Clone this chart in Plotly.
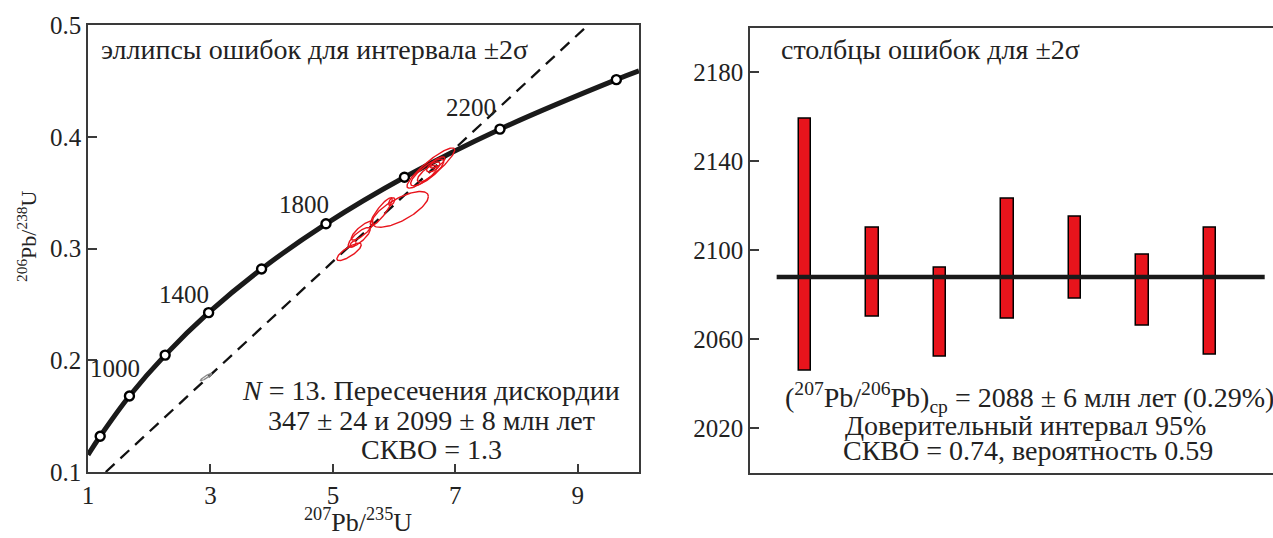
import numpy as np
import plotly.graph_objects as go

# ---------------- data ----------------
# Concordia curve points (207Pb/235U, 206Pb/238U); ages of the marked points in Ma
conc_ages = [800, 1000, 1200, 1400, 1600, 1800, 2000, 2200, 2400]
conc_x = [1.199, 1.677, 2.260, 2.970, 3.835, 4.887, 6.169, 7.729, 9.630]
conc_y = [0.132, 0.168, 0.2046, 0.2426, 0.2817, 0.3221, 0.3638, 0.4068, 0.4511]
curve_x = [1.0] + conc_x + [10.0]
curve_y = [0.1154] + conc_y + [0.4589]

age_labels = ["1000", "1400", "1800", "2200"]
age_label_x = [1.44, 2.57, 4.53, 7.26]
age_label_y = [0.193, 0.259, 0.339, 0.426]

# Discordia end points
disc_x = [1.29, 9.17]
disc_y = [0.10, 0.50]

# Error ellipses: centre x, centre y, 2-sigma x, 2-sigma y, correlation
ell_x = [5.265, 5.43, 5.33, 5.48, 5.79, 6.10, 5.96, 6.60, 6.54, 6.54, 6.64, 6.71]
ell_y = [0.297, 0.310, 0.304, 0.316, 0.333, 0.335, 0.342, 0.372, 0.368, 0.367, 0.373, 0.377]
ell_sx = [0.20, 0.18, 0.05, 0.18, 0.18, 0.46, 0.05, 0.39, 0.27, 0.16, 0.11, 0.12]
ell_sy = [0.0078, 0.0088, 0.0028, 0.0085, 0.0125, 0.0160, 0.0035, 0.018, 0.012, 0.0075, 0.0045, 0.005]
ell_rho = [0.80, 0.80, 0.5, 0.82, 0.88, 0.72, 0.5, 0.9, 0.82, 0.75, 0.6, 0.7]
# Rejected analysis (grey)
rej_x, rej_y, rej_sx, rej_sy, rej_rho = 2.93, 0.185, 0.095, 0.0033, 0.92

# Right panel: 207Pb/206Pb ages, bars from lower to upper (Ma)
bar_pos = [1, 2, 3, 4, 5, 6, 7]
bar_low = [2046, 2070, 2052, 2069, 2078, 2066, 2053]
bar_high = [2159, 2110, 2092, 2123, 2115, 2098, 2110]
mean_age = 2088
mean_x = [0.58, 7.81]

left_xticks = [1, 3, 5, 7, 9]
left_yticks = [0.1, 0.2, 0.3, 0.4, 0.5]
right_yticks = [2020, 2060, 2100, 2140, 2180]

# ---------------- figure ----------------
W, H = 1273, 538
FONT = '"Liberation Serif", "Times New Roman", Times, "DejaVu Serif", serif'
RED = "#E8141C"
fig = go.Figure()


def ellipse(cx, cy, sx, sy, rho, n=120):
    t = np.linspace(0, 2 * np.pi, n)
    cov = np.array([[sx * sx, rho * sx * sy], [rho * sx * sy, sy * sy]])
    L = np.linalg.cholesky(cov)
    pts = L @ np.vstack([np.cos(t), np.sin(t)])
    return pts[0] + cx, pts[1] + cy


# discordia
fig.add_trace(go.Scatter(x=disc_x, y=disc_y, mode="lines",
                         line=dict(color="#111", width=2.3, dash="12px,8px"),
                         xaxis="x", yaxis="y", hoverinfo="skip"))
# concordia curve
fig.add_trace(go.Scatter(x=curve_x, y=curve_y, mode="lines", line_shape="spline",
                         line=dict(color="#1a1a1a", width=5),
                         xaxis="x", yaxis="y", hoverinfo="skip"))
fig.add_trace(go.Scatter(x=conc_x, y=conc_y, mode="markers",
                         marker=dict(size=9, color="white", line=dict(color="black", width=2.4)),
                         xaxis="x", yaxis="y", text=[str(a) for a in conc_ages], hoverinfo="text"))
# grey rejected ellipse
ex, ey = ellipse(rej_x, rej_y, rej_sx, rej_sy, rej_rho)
fig.add_trace(go.Scatter(x=ex, y=ey, mode="lines", line=dict(color="#888", width=1.3),
                         xaxis="x", yaxis="y", hoverinfo="skip"))
# red ellipses
for cx, cy, sx, sy, r in zip(ell_x, ell_y, ell_sx, ell_sy, ell_rho):
    ex, ey = ellipse(cx, cy, sx, sy, r)
    fig.add_trace(go.Scatter(x=ex, y=ey, mode="lines", line=dict(color=RED, width=1.4),
                             xaxis="x", yaxis="y", hoverinfo="skip"))

# right panel
fig.add_trace(go.Scatter(x=mean_x, y=[mean_age, mean_age], mode="lines",
                         line=dict(color="#1a1a1a", width=4.5),
                         xaxis="x2", yaxis="y2", hoverinfo="skip"))
fig.add_trace(go.Bar(x=bar_pos, y=[h - l for h, l in zip(bar_high, bar_low)], base=bar_low,
                     width=0.18, marker=dict(color=RED, line=dict(color="black", width=1.5)),
                     xaxis="x2", yaxis="y2"))

axis_line = dict(showline=True, linecolor="#3a3a3a", linewidth=1.6, showgrid=False, zeroline=False,
                 ticks="inside", tickcolor="#3a3a3a", tickwidth=1.5, automargin=False,
                 tickfont=dict(family=FONT, size=25, color="#222"))

fig.update_layout(
    width=W, height=H, autosize=False, margin=dict(l=0, r=0, t=0, b=0, pad=0, autoexpand=False),
    paper_bgcolor="white", plot_bgcolor="white", showlegend=False,
    font=dict(family=FONT),
    xaxis=dict(domain=[88 / W, 639 / W], range=[1, 10], tickvals=left_xticks, ticklen=8,
               mirror=True, anchor="y", **axis_line),
    yaxis=dict(domain=[1 - 472 / H, 1 - 25 / H], range=[0.1, 0.5], tickvals=left_yticks,
               ticktext=[f"{v:.1f}" for v in left_yticks], ticklen=9,
               mirror=True, anchor="x", **axis_line),
    xaxis2=dict(domain=[750 / W, 1.0], range=[0.185, 7.933], showticklabels=False,
                mirror=True, anchor="y2", **{**axis_line, "ticks": ""}),
    yaxis2=dict(domain=[1 - 472.7 / H, 1 - 27.7 / H], range=[2000, 2200], tickvals=right_yticks,
                ticklen=9, anchor="x2", **axis_line),
    bargap=0,
)


def ann(text, px, py, size=28, xanchor="center", yanchor="middle", textangle=0):
    fig.add_annotation(text=text, x=px / W, y=1 - py / H, xref="paper", yref="paper",
                       showarrow=False, xanchor=xanchor, yanchor=yanchor, textangle=textangle,
                       borderpad=0, font=dict(family=FONT, size=size, color="#222"))


for t, x, y in zip(age_labels, age_label_x, age_label_y):
    fig.add_annotation(text=t, x=x, y=y, xref="x", yref="y", showarrow=False, borderpad=0,
                       font=dict(family=FONT, size=25, color="#222"))

ann("эллипсы ошибок для интервала ±2σ", 100, 49, xanchor="left")
ann("<i>N</i> = 13. Пересечения дискордии", 431, 390)
ann("347 ± 24 и 2099 ± 8 млн лет", 431, 420)
ann("СКВО = 1.3", 432, 449)
ann("<sup>207</sup>Pb/<sup>235</sup>U", 358, 520, size=26)
ann("<sup>206</sup>Pb/<sup>238</sup>U", 27, 236, size=22, textangle=-90)

ann("столбцы ошибок для ±2σ", 780, 49, xanchor="left")
ann("(<sup>207</sup>Pb/<sup>206</sup>Pb)<sub>ср</sub> = 2088 ± 6 млн лет (0.29%)", 1029, 397)
ann("Доверительный интервал 95%", 1025, 425)
ann("СКВО = 0.74, вероятность 0.59", 1028, 450)

fig.write_html("out.html")
